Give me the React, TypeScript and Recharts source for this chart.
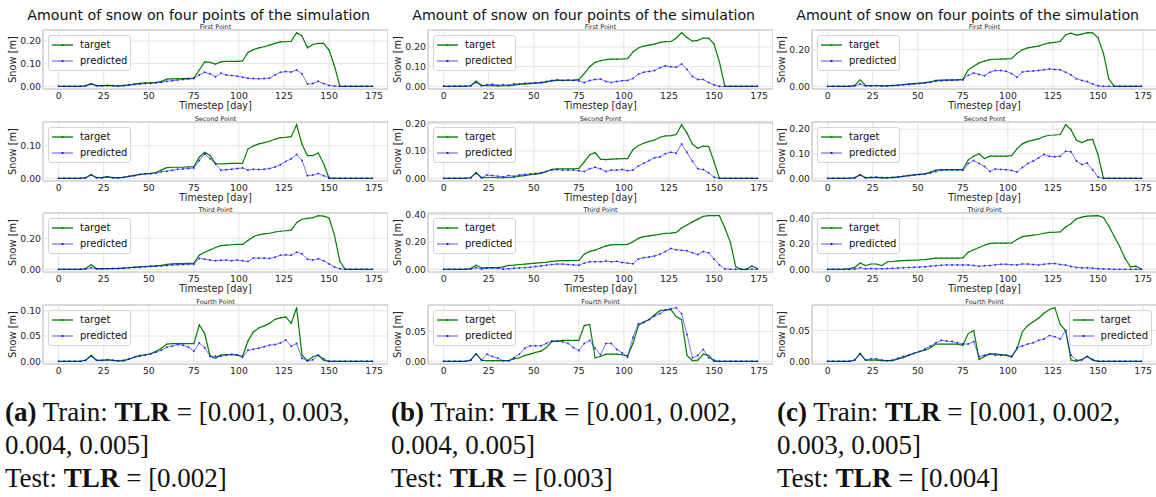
import React from "react";
import {
	LineChart,
	Line,
	XAxis,
	YAxis,
	CartesianGrid,
	Legend,
	ReferenceArea,
} from "recharts";

// one sample every 3 days, day 0 .. 174
const DAYS = Array.from({ length: 59 }, (_, i) => i * 3);
const X_TICKS = [0, 25, 50, 75, 100, 125, 150, 175];

const PANEL_NAMES = ["First Point", "Second Point", "Third Point", "Fourth Point"];
const SERIES_ORDER = ["target", "predicted"];

// column (a)
const A1_TARGET = [
	0, 0, 0, 0, 0, 0.002, 0.012, 0.003, 0.003, 0.004,
	0.003, 0.002, 0.004, 0.006, 0.01, 0.013, 0.015, 0.016, 0.018, 0.022,
	0.032, 0.033, 0.034, 0.034, 0.035, 0.036, 0.072, 0.108, 0.106, 0.098,
	0.108, 0.11, 0.11, 0.11, 0.112, 0.15, 0.162, 0.17, 0.175, 0.182,
	0.19, 0.196, 0.197, 0.199, 0.237, 0.222, 0.17, 0.185, 0.19, 0.19,
	0.16, 0.09, 0, 0, 0, 0, 0, 0, 0,
];
const A1_PRED = [
	0, 0, 0, 0, 0, 0.002, 0.01, 0.002, 0.002, 0.004,
	0.002, 0.001, 0.003, 0.006, 0.008, 0.01, 0.012, 0.013, 0.015, 0.018,
	0.022, 0.025, 0.028, 0.03, 0.032, 0.034, 0.05, 0.062, 0.055, 0.042,
	0.058, 0.05, 0.048, 0.045, 0.04, 0.036, 0.034, 0.033, 0.034, 0.036,
	0.05, 0.062, 0.065, 0.063, 0.072, 0.055, 0.01, 0.012, 0.022, 0.012,
	0.004, 0.001, 0, 0, 0, 0, 0, 0, 0,
];
const A2_TARGET = [
	0, 0, 0, 0, 0, 0.002, 0.012, 0.002, 0.003, 0.005,
	0.002, 0.002, 0.003, 0.006, 0.009, 0.012, 0.014, 0.015, 0.018, 0.026,
	0.033, 0.034, 0.034, 0.034, 0.035, 0.036, 0.065, 0.08, 0.07, 0.045,
	0.044, 0.045, 0.046, 0.046, 0.046, 0.09, 0.1, 0.106, 0.11, 0.114,
	0.12, 0.125, 0.126, 0.128, 0.165, 0.105, 0.07, 0.07, 0.078, 0.045,
	0, 0, 0, 0, 0, 0, 0, 0, 0,
];
const A2_PRED = [
	0, 0, 0, 0, 0, 0.002, 0.01, 0.002, 0.001, 0.004,
	0.002, 0.001, 0.003, 0.006, 0.008, 0.012, 0.013, 0.014, 0.016, 0.02,
	0.022, 0.025, 0.028, 0.029, 0.03, 0.032, 0.055, 0.075, 0.06, 0.045,
	0.025, 0.026, 0.028, 0.03, 0.032, 0.025, 0.028, 0.027, 0.028, 0.03,
	0.035, 0.042, 0.052, 0.06, 0.073, 0.055, 0.008, 0.01, 0.015, 0.008,
	0.002, 0, 0, 0, 0, 0, 0, 0, 0,
];
const A3_TARGET = [
	0, 0, 0, 0, 0, 0.005, 0.03, 0.005, 0.004, 0.005,
	0.005, 0.006, 0.008, 0.01, 0.014, 0.016, 0.018, 0.02, 0.022, 0.026,
	0.032, 0.035, 0.036, 0.037, 0.038, 0.039, 0.09, 0.11, 0.124, 0.14,
	0.152, 0.156, 0.158, 0.16, 0.16, 0.185, 0.21, 0.222, 0.228, 0.232,
	0.24, 0.245, 0.248, 0.252, 0.3, 0.322, 0.328, 0.332, 0.345, 0.342,
	0.33, 0.22, 0.05, 0, 0, 0, 0, 0, 0,
];
const A3_PRED = [
	0, 0, 0, 0, 0, 0.002, 0.01, 0.002, 0.003, 0.004,
	0.006, 0.005, 0.008, 0.01, 0.012, 0.014, 0.016, 0.018, 0.02, 0.022,
	0.025, 0.028, 0.03, 0.031, 0.032, 0.033, 0.07, 0.065, 0.06, 0.055,
	0.058, 0.06, 0.055, 0.06, 0.055, 0.05, 0.072, 0.072, 0.072, 0.07,
	0.078, 0.09, 0.093, 0.09, 0.11, 0.1, 0.065, 0.06, 0.068, 0.055,
	0.035, 0.015, 0.003, 0, 0, 0, 0, 0, 0,
];
const A4_TARGET = [
	0, 0, 0, 0, 0, 0.002, 0.012, 0.002, 0.002, 0.003,
	0.002, 0.001, 0.001, 0.004, 0.008, 0.012, 0.013, 0.015, 0.02, 0.026,
	0.034, 0.035, 0.035, 0.035, 0.035, 0.035, 0.072, 0.055, 0.01, 0.006,
	0.013, 0.013, 0.013, 0.012, 0.01, 0.04, 0.058, 0.066, 0.07, 0.075,
	0.083, 0.086, 0.088, 0.075, 0.106, 0.012, 0.001, 0.009, 0.012, 0.002,
	0, 0, 0, 0, 0, 0, 0, 0, 0,
];
const A4_PRED = [
	0, 0, 0, 0, 0, 0.002, 0.01, 0.002, 0.002, 0.003,
	0.002, 0.001, 0.002, 0.005, 0.008, 0.01, 0.012, 0.015, 0.018, 0.022,
	0.028, 0.03, 0.033, 0.032, 0.028, 0.02, 0.036, 0.027, 0.01, 0.01,
	0.01, 0.012, 0.014, 0.013, 0.008, 0.022, 0.024, 0.026, 0.029, 0.032,
	0.033, 0.036, 0.042, 0.03, 0.035, 0.006, 0.001, 0.003, 0.012, 0.005,
	0, 0, 0, 0, 0, 0, 0, 0, 0,
];

// column (b)
const B1_TARGET = [
	0, 0, 0, 0, 0, 0.003, 0.027, 0.005, 0.003, 0.004,
	0.002, 0.003, 0.004, 0.006, 0.01, 0.012, 0.014, 0.016, 0.018, 0.022,
	0.028, 0.03, 0.03, 0.031, 0.032, 0.035, 0.065, 0.1, 0.122, 0.13,
	0.136, 0.138, 0.138, 0.139, 0.141, 0.175, 0.195, 0.205, 0.21, 0.215,
	0.224, 0.227, 0.228, 0.245, 0.273, 0.248, 0.23, 0.234, 0.246, 0.245,
	0.215, 0.123, 0, 0, 0, 0, 0, 0, 0,
];
const B1_PRED = [
	0.001, 0, 0.001, 0.001, 0.001, 0.002, 0.02, 0.003, 0.008, 0.01,
	0.005, 0.008, 0.006, 0.012, 0.012, 0.015, 0.016, 0.018, 0.02, 0.025,
	0.03, 0.033, 0.03, 0.032, 0.03, 0.028, 0.02, 0.03, 0.035, 0.037,
	0.025, 0.02, 0.025, 0.028, 0.03, 0.04, 0.062, 0.072, 0.076, 0.08,
	0.095, 0.104, 0.1, 0.097, 0.113, 0.085, 0.05, 0.035, 0.035, 0.02,
	0.007, 0, 0, 0, 0, 0, 0, 0, 0,
];
const B2_TARGET = [
	0, 0, 0, 0, 0, 0.002, 0.022, 0.002, 0.003, 0.003,
	0.002, 0.002, 0.003, 0.004, 0.008, 0.01, 0.013, 0.015, 0.018, 0.025,
	0.033, 0.035, 0.035, 0.035, 0.035, 0.036, 0.06, 0.086, 0.094, 0.07,
	0.068, 0.07, 0.071, 0.072, 0.072, 0.105, 0.12, 0.128, 0.135, 0.14,
	0.15, 0.155, 0.156, 0.16, 0.196, 0.165, 0.125, 0.11, 0.118, 0.117,
	0.06, 0, 0, 0, 0, 0, 0, 0, 0,
];
const B2_PRED = [
	0, 0, 0, 0, 0, 0.002, 0.018, 0.002, 0.012, 0.01,
	0.008, 0.005, 0.01, 0.008, 0.012, 0.014, 0.016, 0.018, 0.02, 0.025,
	0.03, 0.032, 0.03, 0.03, 0.03, 0.028, 0.025, 0.035, 0.04, 0.035,
	0.025, 0.03, 0.03, 0.032, 0.028, 0.03, 0.045, 0.055, 0.065, 0.075,
	0.078, 0.09, 0.095, 0.092, 0.125, 0.095, 0.062, 0.035, 0.032, 0.02,
	0.004, 0, 0, 0, 0, 0, 0, 0, 0,
];
const B3_TARGET = [
	0, 0, 0, 0, 0, 0.005, 0.03, 0.01, 0.012, 0.013,
	0.012, 0.018, 0.028, 0.03, 0.035, 0.038, 0.042, 0.045, 0.048, 0.05,
	0.058, 0.062, 0.063, 0.063, 0.064, 0.065, 0.11, 0.13, 0.14, 0.155,
	0.17, 0.178, 0.18, 0.18, 0.182, 0.2, 0.225, 0.238, 0.243, 0.248,
	0.255, 0.262, 0.263, 0.268, 0.3, 0.322, 0.345, 0.365, 0.385, 0.39,
	0.39, 0.39, 0.3, 0.2, 0.02, 0, 0, 0.025, 0.005,
];
const B3_PRED = [
	0, 0, 0, 0, 0, 0.003, 0.012, 0.002, 0.008, 0.01,
	0.008, 0.002, 0.005, 0.008, 0.01, 0.012, 0.015, 0.02, 0.025, 0.03,
	0.035, 0.038, 0.038, 0.035, 0.032, 0.03, 0.045, 0.055, 0.055, 0.055,
	0.06, 0.055, 0.058, 0.05, 0.045, 0.04, 0.075, 0.085, 0.09, 0.097,
	0.11, 0.13, 0.152, 0.142, 0.138, 0.135, 0.12, 0.108, 0.13, 0.12,
	0.075, 0.032, 0.003, 0, 0, 0, 0, 0, 0,
];
const B4_TARGET = [
	0, 0, 0, 0, 0, 0.002, 0.013, 0.002, 0.001, 0.001,
	0.001, 0.001, 0.001, 0.004, 0.006, 0.01, 0.012, 0.015, 0.017, 0.023,
	0.033, 0.034, 0.035, 0.035, 0.035, 0.035, 0.06, 0.062, 0.006, 0.008,
	0.012, 0.012, 0.012, 0.011, 0.009, 0.03, 0.06, 0.066, 0.07, 0.078,
	0.085, 0.086, 0.087, 0.075, 0.07, 0.01, 0.001, 0.002, 0.012, 0.01,
	0, 0, 0, 0, 0, 0, 0, 0, 0,
];
const B4_PRED = [
	0, 0, 0, 0, 0, 0.002, 0.012, 0.002, 0.012, 0.008,
	0.005, 0.001, 0.001, 0.006, 0.012, 0.022, 0.026, 0.026, 0.026, 0.03,
	0.034, 0.034, 0.033, 0.03, 0.023, 0.018, 0.03, 0.035, 0.022, 0.011,
	0.03, 0.03, 0.02, 0.014, 0.007, 0.04, 0.063, 0.065, 0.07, 0.076,
	0.08, 0.086, 0.088, 0.09, 0.08, 0.045, 0.006, 0.01, 0.02, 0.006,
	0.002, 0, 0, 0, 0, 0, 0, 0, 0,
];

// column (c)
const C1_TARGET = [
	0, 0, 0, 0, 0, 0.005, 0.035, 0.005, 0.003, 0.003,
	0.002, 0.004, 0.004, 0.006, 0.01, 0.013, 0.015, 0.017, 0.02, 0.025,
	0.033, 0.034, 0.035, 0.035, 0.036, 0.038, 0.09, 0.11, 0.128, 0.138,
	0.146, 0.148, 0.149, 0.15, 0.151, 0.18, 0.2, 0.21, 0.215, 0.22,
	0.23, 0.237, 0.24, 0.245, 0.282, 0.29, 0.28, 0.285, 0.293, 0.292,
	0.265, 0.18, 0.04, 0, 0, 0, 0, 0, 0,
];
const C1_PRED = [
	0, 0, 0, 0, 0, 0.002, 0.012, 0.002, 0.003, 0.004,
	0.002, 0.002, 0.004, 0.006, 0.008, 0.01, 0.013, 0.015, 0.018, 0.022,
	0.028, 0.03, 0.032, 0.033, 0.034, 0.035, 0.06, 0.073, 0.065, 0.058,
	0.077, 0.086, 0.086, 0.082, 0.07, 0.05, 0.078, 0.082, 0.084, 0.086,
	0.09, 0.095, 0.092, 0.09, 0.077, 0.062, 0.042, 0.032, 0.026, 0.012,
	0.003, 0, 0, 0, 0, 0, 0, 0, 0,
];
const C2_TARGET = [
	0, 0, 0, 0, 0, 0.002, 0.016, 0.002, 0.003, 0.003,
	0.002, 0.002, 0.003, 0.005, 0.008, 0.012, 0.014, 0.016, 0.018, 0.025,
	0.033, 0.035, 0.035, 0.035, 0.035, 0.036, 0.075, 0.09, 0.1, 0.08,
	0.09, 0.09, 0.09, 0.09, 0.092, 0.12, 0.14, 0.15, 0.155, 0.16,
	0.17, 0.175, 0.176, 0.178, 0.218, 0.198, 0.155, 0.145, 0.155, 0.158,
	0.095, 0, 0, 0, 0, 0, 0, 0, 0,
];
const C2_PRED = [
	0, 0, 0, 0, 0, 0.002, 0.012, 0.002, 0.004, 0.005,
	0.003, 0.002, 0.004, 0.006, 0.008, 0.01, 0.013, 0.016, 0.018, 0.022,
	0.028, 0.033, 0.034, 0.034, 0.034, 0.033, 0.06, 0.072, 0.06, 0.048,
	0.028, 0.038, 0.036, 0.035, 0.032, 0.026, 0.044, 0.06, 0.07, 0.083,
	0.097, 0.09, 0.088, 0.09, 0.11, 0.108, 0.07, 0.056, 0.062, 0.035,
	0.005, 0, 0, 0, 0, 0, 0, 0, 0,
];
const C3_TARGET = [
	0, 0, 0, 0.002, 0.005, 0.015, 0.05, 0.03, 0.042, 0.042,
	0.03, 0.058, 0.062, 0.066, 0.069, 0.071, 0.072, 0.074, 0.077, 0.083,
	0.088, 0.088, 0.088, 0.088, 0.089, 0.09, 0.135, 0.155, 0.172, 0.19,
	0.205, 0.207, 0.207, 0.207, 0.208, 0.235, 0.258, 0.265, 0.27, 0.275,
	0.285, 0.292, 0.293, 0.296, 0.335, 0.36, 0.4, 0.412, 0.42, 0.423,
	0.424, 0.41, 0.34, 0.26, 0.18, 0.085, 0.02, 0.025, 0.003,
];
const C3_PRED = [
	0, 0, 0, 0, 0, 0.003, 0.012, 0.004, 0.006, 0.005,
	0.004, 0.006, 0.008, 0.01, 0.012, 0.014, 0.016, 0.018, 0.02, 0.025,
	0.028, 0.032, 0.035, 0.035, 0.035, 0.035, 0.035, 0.03, 0.024, 0.028,
	0.03, 0.036, 0.04, 0.04, 0.036, 0.035, 0.042, 0.042, 0.038, 0.034,
	0.04, 0.045, 0.046, 0.038, 0.034, 0.022, 0.015, 0.012, 0.012, 0.008,
	0.005, 0.003, 0.002, 0, 0, 0, 0, 0, 0,
];
const C4_TARGET = [
	0, 0, 0, 0, 0, 0.002, 0.013, 0.002, 0.002, 0.002,
	0.001, 0.001, 0.001, 0.004, 0.006, 0.01, 0.013, 0.016, 0.018, 0.022,
	0.028, 0.028, 0.028, 0.028, 0.028, 0.026, 0.045, 0.05, 0.003, 0.008,
	0.012, 0.012, 0.011, 0.01, 0.007, 0.02, 0.048, 0.058, 0.064, 0.07,
	0.078, 0.084, 0.087, 0.06, 0.05, 0.002, 0, 0.003, 0.008, 0.002,
	0, 0, 0, 0, 0, 0, 0, 0, 0,
];
const C4_PRED = [
	0, 0, 0, 0, 0, 0.002, 0.012, 0.002, 0.004, 0.004,
	0.002, 0.001, 0.002, 0.005, 0.008, 0.01, 0.013, 0.016, 0.02, 0.025,
	0.03, 0.034, 0.033, 0.032, 0.03, 0.028, 0.028, 0.032, 0.008, 0.01,
	0.012, 0.01, 0.01, 0.01, 0.008, 0.022, 0.025, 0.028, 0.03, 0.034,
	0.036, 0.042, 0.04, 0.036, 0.05, 0.01, 0.002, 0.002, 0.008, 0.003,
	0, 0, 0, 0, 0, 0, 0, 0, 0,
];

const Y_TICKS_A = [[0, 0.1, 0.2], [0, 0.1], [0, 0.2], [0, 0.05, 0.1]];
const Y_TICKS_B = [[0, 0.1, 0.2], [0, 0.1, 0.2], [0, 0.2, 0.4], [0, 0.05]];
const Y_TICKS_C = [[0, 0.2], [0, 0.1, 0.2], [0, 0.2, 0.4], [0, 0.05]];

const CAPTION_TAGS = ["(a)", "(b)", "(c)"];
const CAPTION_TRAIN = [
	["[0.001, 0.003,", "0.004, 0.005]"],
	["[0.001, 0.002,", "0.004, 0.005]"],
	["[0.001, 0.002,", "0.003, 0.005]"],
];
const CAPTION_TEST = ["[0.002]", "[0.003]", "[0.004]"];

const COLUMNS = [
	{ targets: [A1_TARGET, A2_TARGET, A3_TARGET, A4_TARGET], preds: [A1_PRED, A2_PRED, A3_PRED, A4_PRED], yTicks: Y_TICKS_A },
	{ targets: [B1_TARGET, B2_TARGET, B3_TARGET, B4_TARGET], preds: [B1_PRED, B2_PRED, B3_PRED, B4_PRED], yTicks: Y_TICKS_B },
	{ targets: [C1_TARGET, C2_TARGET, C3_TARGET, C4_TARGET], preds: [C1_PRED, C2_PRED, C3_PRED, C4_PRED], yTicks: Y_TICKS_C },
];

const FONT = '"DejaVu Sans", sans-serif';
const COL_X = [0, 385, 769];
const ROW_TOP = [30, 122, 213, 305];
const Y_AXIS_W = 43;
const PLOT_W = 345;
const PLOT_H = 59;
const TOP_PAD = 6; // room for the top tick label
const lastDay = DAYS[DAYS.length - 1];
const X_DOMAIN = [-0.05 * lastDay, 1.05 * lastDay];

const GREEN = "#008000";
const BLUE = "#0000ff";

const SnowLegend = (props: any) => {
	const items = [...(props.payload || [])].sort(
		(a: any, b: any) => SERIES_ORDER.indexOf(a.dataKey) - SERIES_ORDER.indexOf(b.dataKey)
	);
	return (
		<div
			style={{
				background: "rgba(255,255,255,0.8)",
				border: "1px solid #d4d4d4",
				borderRadius: 3,
				padding: "0.5px 3px",
				fontFamily: FONT,
				fontSize: 10,
				color: "#111",
			}}>
			{items.map((item: any) => {
				const faded = item.dataKey === "predicted";
				return (
					<div
						key={item.value}
						style={{ display: "flex", alignItems: "center", height: 16.5 }}>
						<svg width={21} height={6}>
							<line
								x1={0}
								y1={3}
								x2={21}
								y2={3}
								stroke={item.color}
								strokeWidth={1.5}
								strokeOpacity={faded ? 0.45 : 0.9}
							/>
							<circle cx={10.5} cy={3} r={1.1} fill={item.color} />
						</svg>
						<span style={{ marginLeft: 7, lineHeight: "16.5px" }}>{item.value}</span>
					</div>
				);
			})}
		</div>
	);
};

type PanelProps = {
	left: number;
	top: number;
	name: string;
	target: number[];
	predicted: number[];
	yTicks: number[];
	xLabel: boolean;
	legendRight: boolean;
};

const SnowPanel = ({ left, top, name, target, predicted, yTicks, xLabel, legendRight }: PanelProps) => {
	const data = DAYS.map((day, i) => ({ day, target: target[i], predicted: predicted[i] }));
	const peak = Math.max(...target, ...predicted);
	const yDomain = [-0.05 * peak, 1.05 * peak];
	const xAxisH = xLabel ? 24 : 14;
	return (
		<>
			<div
				style={{
					position: "absolute",
					left: left + Y_AXIS_W,
					top: top - 6.5,
					width: PLOT_W,
					textAlign: "center",
					fontFamily: FONT,
					fontSize: 6.4,
					lineHeight: "6.5px",
					color: "#222",
				}}>
				{name}
			</div>
			<div style={{ position: "absolute", left, top: top - TOP_PAD }}>
				<LineChart
					width={Y_AXIS_W + PLOT_W}
					height={TOP_PAD + PLOT_H + xAxisH}
					data={data}
					margin={{ top: TOP_PAD, right: 0, bottom: 0, left: 0 }}>
					<CartesianGrid stroke={"#e4e4e4"} strokeWidth={1} />
					<XAxis
						dataKey={"day"}
						type={"number"}
						domain={X_DOMAIN}
						ticks={X_TICKS}
						interval={0}
						allowDataOverflow
						height={xAxisH}
						tickLine={false}
						axisLine={false}
						tickSize={0}
						tickMargin={3}
						tick={{ fontSize: 9.3, fill: "#262626", fontFamily: FONT }}
						label={
							xLabel
								? {
										value: "Timestep [day]",
										position: "insideBottom",
										offset: 4,
										style: { fontSize: 9.6, fill: "#262626", fontFamily: FONT },
								  }
								: undefined
						}
					/>
					<YAxis
						type={"number"}
						domain={yDomain}
						ticks={yTicks}
						interval={0}
						allowDataOverflow
						width={Y_AXIS_W}
						tickLine={false}
						axisLine={false}
						tickSize={0}
						tickMargin={2}
						tickFormatter={(v) => Number(v).toFixed(2)}
						tick={{ fontSize: 9.3, fill: "#262626", fontFamily: FONT }}
						label={{
							value: "Snow [m]",
							angle: -90,
							position: "insideLeft",
							offset: 13,
							style: { textAnchor: "middle", fontSize: 9.8, fill: "#262626", fontFamily: FONT },
						}}
					/>
					<ReferenceArea
						x1={X_DOMAIN[0]}
						x2={X_DOMAIN[1]}
						y1={yDomain[0]}
						y2={yDomain[1]}
						fill='none'
						stroke={"#c4c4c4"}
						strokeWidth={1}
						ifOverflow={"visible"}
					/>
					<Line
						dataKey={"target"}
						name={"target"}
						stroke={GREEN}
						strokeWidth={1.2}
						dot={{ r: 0.6, fill: GREEN, stroke: "none" }}
						activeDot={false}
						isAnimationActive={false}
					/>
					<Line
						dataKey={"predicted"}
						name={"predicted"}
						stroke={BLUE}
						strokeOpacity={0.6}
						strokeWidth={0.9}
						dot={{ r: 1, fill: BLUE, fillOpacity: 0.75, stroke: "none" }}
						activeDot={false}
						isAnimationActive={false}
					/>
					<Legend
						layout={"vertical"}
						align={"center"}
						verticalAlign={"middle"}
						wrapperStyle={
							legendRight
								? { top: TOP_PAD + 5, right: 5 }
								: { top: TOP_PAD + 5, left: Y_AXIS_W + 5 }
						}
						content={<SnowLegend />}
					/>
				</LineChart>
			</div>
		</>
	);
};

const App = () => {
	return (
		<div
			style={{
				position: "absolute",
				left: 0,
				top: 0,
				width: 1156,
				height: 497,
				background: "#fff",
				overflow: "hidden",
			}}>
			{COLUMNS.map((col, c) => (
				<React.Fragment key={c}>
					<div
						style={{
							position: "absolute",
							left: COL_X[c] + 4.7,
							top: 8.7,
							width: 388,
							textAlign: "center",
							fontFamily: FONT,
							fontSize: 14.2,
							lineHeight: "13px",
							color: "#111",
						}}>
						Amount of snow on four points of the simulation
					</div>
					{PANEL_NAMES.map((name, r) => (
						<SnowPanel
							key={name}
							left={COL_X[c]}
							top={ROW_TOP[r]}
							name={name}
							target={col.targets[r]}
							predicted={col.preds[r]}
							yTicks={col.yTicks[r]}
							xLabel={r < 3}
							legendRight={c === 2 && r === 3}
						/>
					))}
					<div
						style={{
							position: "absolute",
							left: [5, 391, 777][c],
							top: 396,
							fontFamily: '"Liberation Serif", serif',
							fontSize: 27,
							lineHeight: "33px",
							color: "#111",
							whiteSpace: "nowrap",
						}}>
						<b>{CAPTION_TAGS[c]}</b> Train: <b>TLR</b> = {CAPTION_TRAIN[c][0]}
						<br />
						{CAPTION_TRAIN[c][1]}
						<br />
						Test: <b>TLR</b> = {CAPTION_TEST[c]}
					</div>
				</React.Fragment>
			))}
		</div>
	);
};

export default App;
